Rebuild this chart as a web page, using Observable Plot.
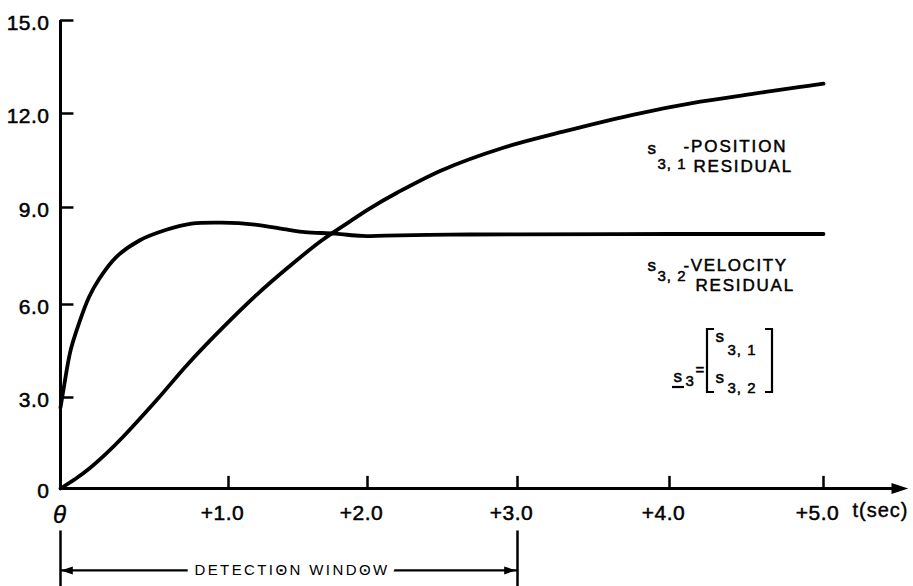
<!DOCTYPE html>
<html>
<head>
<meta charset="utf-8">
<script src="https://cdn.jsdelivr.net/npm/d3@7"></script>
<script src="https://cdn.jsdelivr.net/npm/@observablehq/plot@0.6"></script>
<style>
  body { margin: 0; background: #fff; }
  #chart svg { display: block; background: #fff; }
</style>
</head>
<body>
<div id="chart"></div>
<script>
// Axis ticks and labels
const yTicks = [0, 3, 6, 9, 12, 15];
const yTickLabels = ["0", "3.0", "6.0", "9.0", "12.0", "15.0"];
const xTicks = [1, 2, 3, 4, 5];
const xTickLabels = ["+1.0", "+2.0", "+3.0", "+4.0", "+5.0"];
const originLabel = "θ";
const xUnitLabel = "t(sec)";

// Detection window (seconds after onset)
const detectionWindow = [0, 3];
const detectionLabel = "DETECTION WINDOW";

// s3,1 – position residual
const posT = [0, 0.09, 0.17, 0.27, 0.37, 0.57, 0.76, 0.96, 1.19, 1.43, 1.67, 1.92, 2.0, 2.2, 2.5, 2.9, 3.3, 3.75, 4.2, 4.55, 4.85, 5.0];
const posS = [0, 0.32, 0.65, 1.14, 1.69, 2.90, 4.09, 5.22, 6.25, 7.15, 7.98, 8.70, 8.93, 9.48, 10.20, 10.90, 11.42, 11.95, 12.38, 12.64, 12.86, 12.96];

// s3,2 – velocity residual
const velT = [0, 0.02, 0.06, 0.11, 0.17, 0.23, 0.33, 0.47, 0.63, 0.78, 0.96, 1.19, 1.43, 1.55, 1.77, 1.96, 2.12, 2.55, 3.0, 4.0, 5.0];
const velS = [2.67, 3.33, 4.52, 5.39, 6.23, 6.79, 7.46, 7.98, 8.31, 8.50, 8.53, 8.47, 8.31, 8.24, 8.19, 8.12, 8.13, 8.16, 8.17, 8.18, 8.18];

const position = posT.map((t, i) => ({t, s: posS[i]}));
const velocity = velT.map((t, i) => ({t, s: velS[i]}));

// layout constants (data units beyond the plotted range)
const axisEnd = 5.49;
const xTickLen = 0.4;
const yTickLen = 0.08;
const windowTop = -1.4, windowBottom = -3.5, windowArrowY = -2.7;

const font = "'Liberation Sans', Arial, sans-serif";

// slim filled arrowhead pointing right
const arrowHead = {
  draw(context, size) {
    const s = Math.sqrt(size);
    context.moveTo(0.75 * s, 0);
    context.lineTo(-0.6 * s, -0.45 * s);
    context.lineTo(-0.6 * s, 0.45 * s);
    context.closePath();
  }
};

// free-standing annotation text placed in pixels from the top-left corner
const note = (text, x, y, fontSize = 17) =>
  Plot.text([text], {
    frameAnchor: "top-left", dx: x, dy: y, text: d => d,
    textAnchor: "start", lineAnchor: "middle",
    fontSize, fontFamily: font, fill: "black", stroke: "black", strokeWidth: 0.5
  });

// brackets of the residual vector and the underline of its name
function vectorBrackets() {
  const g = d3.create("svg:g")
    .attr("fill", "none").attr("stroke", "black")
    .attr("stroke-width", 2.2).attr("stroke-linejoin", "miter");
  g.append("path").attr("d", "M714,329 H707 V392 H714");
  g.append("path").attr("d", "M765,329 H772 V392 H765");
  g.append("path").attr("d", "M672,387 H684");
  return g.node();
}

const chart = Plot.plot({
  width: 913,
  height: 586,
  marginTop: 0, marginRight: 0, marginBottom: 0, marginLeft: 0,
  x: {type: "linear", domain: [0, 1, 2, 3, 4, 5], range: [60, 228, 367, 517, 669, 823], axis: null},
  y: {type: "linear", domain: [0, 3, 6, 9, 12, 15], range: [488, 397, 304, 207, 113, 20], axis: null},
  style: {fontFamily: font, background: "white", color: "black"},
  marks: [
    // axes
    Plot.ruleY([0], {x1: 0, x2: axisEnd, stroke: "black", strokeWidth: 3}),
    Plot.dot([axisEnd], {x: d => d, y: 0, symbol: arrowHead, r: 7, fill: "black", stroke: "none"}),
    Plot.ruleX([0], {y1: 0, y2: 15, stroke: "black", strokeWidth: 3}),
    Plot.ruleY(yTicks.slice(1), {x1: 0, x2: yTickLen, stroke: "black", strokeWidth: 2.5}),
    Plot.ruleX(xTicks, {y1: 0, y2: xTickLen, stroke: "black", strokeWidth: 2.5}),

    // tick labels
    Plot.text(yTicks, {x: 0, y: d => d, text: (d, i) => yTickLabels[i], textAnchor: "end", dx: -11, dy: 3,
      fontSize: 21, fontFamily: font, fill: "black", stroke: "black", strokeWidth: 0.5}),
    Plot.text(xTicks, {x: d => d, y: 0, text: (d, i) => xTickLabels[i], dx: -6, dy: 25,
      fontSize: 21, fontFamily: font, fill: "black", stroke: "black", strokeWidth: 0.5}),
    Plot.text([originLabel], {x: 0, y: 0, text: d => d, dx: -1, dy: 27, fontSize: 24, fontStyle: "italic",
      fontFamily: font, fill: "black", stroke: "black", strokeWidth: 0.4}),
    Plot.text([xUnitLabel], {x: 5, y: 0, text: d => d, textAnchor: "start", dx: 29, dy: 22,
      fontSize: 20, fontFamily: font, fill: "black", stroke: "black", strokeWidth: 0.4}),

    // residual curves
    Plot.line(velocity, {x: "t", y: "s", curve: "catmull-rom", stroke: "black", strokeWidth: 3.8}),
    Plot.line(position, {x: "t", y: "s", curve: "catmull-rom", stroke: "black", strokeWidth: 3.8}),

    // detection window
    Plot.ruleX(detectionWindow, {y1: windowTop, y2: windowBottom, stroke: "black", strokeWidth: 2.5}),
    Plot.ruleY([detectionWindow], {x1: d => d[0], x2: d => d[1], y: windowArrowY, stroke: "black", strokeWidth: 2.2}),
    Plot.dot([detectionWindow[0]], {x: d => d, y: windowArrowY, symbol: arrowHead, r: 5, rotate: 180, dx: 7, fill: "black", stroke: "none"}),
    Plot.dot([detectionWindow[1]], {x: d => d, y: windowArrowY, symbol: arrowHead, r: 5, dx: -8, fill: "black", stroke: "none"}),
    Plot.text([detectionLabel], {x: d3.mean(detectionWindow), y: windowArrowY, text: d => d, dx: -6,
      fontSize: 15, fontFamily: font, fill: "black", stroke: "white", strokeWidth: 16}),

    // curve annotations
    note("s", 647, 148.5),
    note("3, 1", 657, 163.5, 15),
    note("-POSITION", 683, 146),
    note("RESIDUAL", 693, 166),
    note("s", 647, 265.5),
    note("3, 2", 657, 276, 15),
    note("-VELOCITY", 683, 265),
    note("RESIDUAL", 695, 285),

    // residual vector definition
    note("s", 673, 376.5),
    note("3", 685, 381, 15),
    note("=", 695, 370, 15),
    note("s", 715, 336.5),
    note("3, 1", 727, 350, 15),
    note("s", 715, 377),
    note("3, 2", 727, 388, 15),
    vectorBrackets
  ]
});

// letter spacing of the lettering
const spacing = {
  "-POSITION": "1.9px", "-VELOCITY": "1.6px", "RESIDUAL": "1.8px",
  "3, 1": "1px", "3, 2": "1px", "DETECTION WINDOW": "2.4px",
  "t(sec)": "1px"
};
d3.select(chart).selectAll("text").each(function () {
  const s = spacing[this.textContent];
  if (s) this.setAttribute("letter-spacing", s);
  else if (/^[+0-9]/.test(this.textContent)) this.setAttribute("letter-spacing", "0.5px");
});

document.getElementById("chart").append(chart);
</script>
</body>
</html>
